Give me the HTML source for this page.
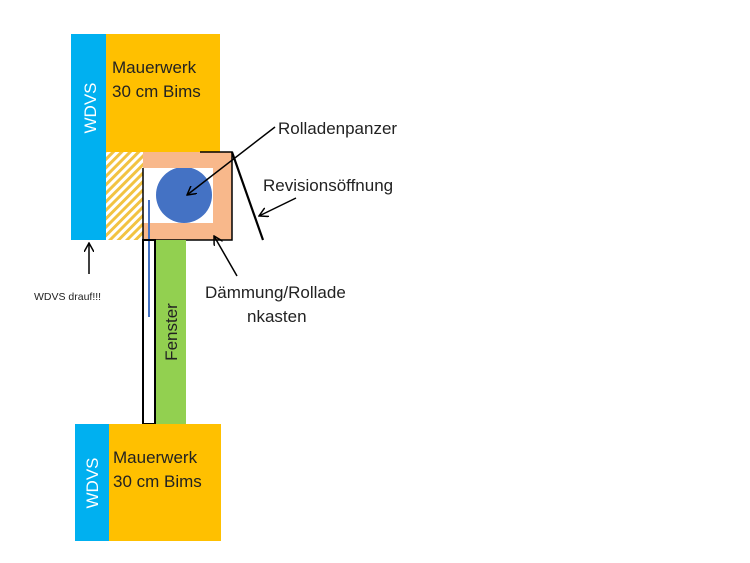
<!DOCTYPE html>
<html><head><meta charset="utf-8"><style>body{margin:0;background:#fff}svg{display:block}text{font-family:"Liberation Sans",sans-serif}</style></head>
<body>
<svg width="750" height="563" viewBox="0 0 750 563" xmlns="http://www.w3.org/2000/svg">
<defs>
<pattern id="h" width="6" height="6" patternUnits="userSpaceOnUse" patternTransform="rotate(45)">
<rect width="6" height="6" fill="#fff"/><rect width="3" height="6" fill="#f2c342"/>
</pattern>
<marker id="a" markerWidth="10" markerHeight="10" refX="9" refY="5" orient="auto" markerUnits="userSpaceOnUse">
<path d="M0,0 L9,5 L0,10" fill="none" stroke="#000" stroke-width="1.5"/>
</marker>
<clipPath id="c"><rect x="143" y="168" width="70" height="55"/></clipPath>
</defs>
<rect x="71" y="34" width="35" height="206" fill="#00b0f0"/>
<rect x="106" y="34" width="114" height="118" fill="#ffc000"/>
<rect x="106" y="152" width="37" height="88" fill="url(#h)"/>
<text transform="translate(96,108) rotate(-90)" text-anchor="middle" fill="#fff" font-size="17">WDVS</text>
<text x="112" y="73" font-size="17" fill="#222">Mauerwerk</text>
<text x="112" y="97" font-size="17" fill="#222">30 cm Bims</text>
<rect x="143" y="152" width="89" height="88" fill="#f8b88b"/>
<rect x="143" y="168" width="70" height="55" fill="#fff"/>
<circle cx="184" cy="195" r="28" fill="#4472c4" clip-path="url(#c)"/>
<polyline points="143,168 143,240 232,240 232,152 200,152" fill="none" stroke="#000" stroke-width="1.5"/>
<line x1="149" y1="200" x2="149" y2="317" stroke="#4472c4" stroke-width="2"/>
<rect x="143" y="240" width="12" height="184" fill="none" stroke="#000" stroke-width="2"/>
<rect x="156" y="240" width="30" height="184" fill="#92d050"/>
<text transform="translate(177,332) rotate(-90)" text-anchor="middle" fill="#222" font-size="17">Fenster</text>
<line x1="232" y1="152" x2="263" y2="240" stroke="#000" stroke-width="2.2"/>
<rect x="75" y="424" width="34" height="117" fill="#00b0f0"/>
<rect x="109" y="424" width="112" height="117" fill="#ffc000"/>
<text transform="translate(98,483) rotate(-90)" text-anchor="middle" fill="#fff" font-size="17">WDVS</text>
<text x="113" y="463" font-size="17" fill="#222">Mauerwerk</text>
<text x="113" y="487" font-size="17" fill="#222">30 cm Bims</text>
<text x="278" y="134" font-size="17" fill="#222">Rolladenpanzer</text>
<line x1="275" y1="127" x2="187" y2="195" stroke="#000" stroke-width="1.5" marker-end="url(#a)"/>
<text x="263" y="191" font-size="17" fill="#222">Revisionsöffnung</text>
<line x1="296" y1="198" x2="259" y2="216" stroke="#000" stroke-width="1.5" marker-end="url(#a)"/>
<text x="205" y="298" font-size="17" fill="#222">Dämmung/Rollade</text>
<text x="247" y="322" font-size="17" fill="#222">nkasten</text>
<line x1="237" y1="276" x2="214" y2="236" stroke="#000" stroke-width="1.5" marker-end="url(#a)"/>
<line x1="89" y1="274" x2="89" y2="243" stroke="#000" stroke-width="1.5" marker-end="url(#a)"/>
<text x="34" y="300" font-size="10.5" fill="#222">WDVS drauf!!!</text>
</svg>
</body></html>
